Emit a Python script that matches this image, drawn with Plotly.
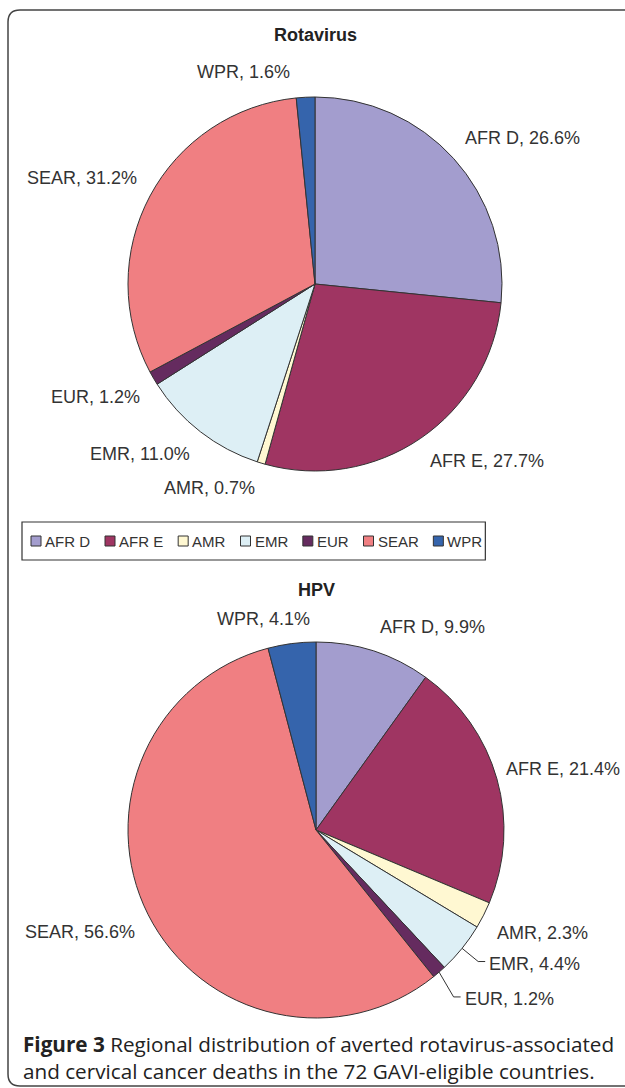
import math
import plotly.graph_objects as go

# ---------------- data ----------------
regions = ["AFR D", "AFR E", "AMR", "EMR", "EUR", "SEAR", "WPR"]
rotavirus_pct = [26.6, 27.7, 0.7, 11.0, 1.2, 31.2, 1.6]
hpv_pct = [9.9, 21.4, 2.3, 4.4, 1.2, 56.6, 4.1]
chart_titles = ["Rotavirus", "HPV"]
caption_bold = "Figure 3"
caption_line1 = " Regional distribution of averted rotavirus-associated"
caption_line2 = "and cervical cancer deaths in the 72 GAVI-eligible countries."

# ---------------- style ----------------
colors = ["#A39DCE", "#9F3562", "#FFF8D2", "#DDEFF5", "#652B5F", "#F07F82", "#3564AC"]
W, H = 625, 1088
TEXT = "#333333"
LABEL_FONT = dict(family="Liberation Sans, Arial, sans-serif", size=18, color=TEXT)

def px(x):
    return x / W

def py(y):
    return 1 - y / H

# pie geometry (pixels); nudges = (dx, dy, leader line?)
pies = [
    dict(values=rotavirus_pct, cx=315, cy=284, r=187, title_y=35,
         nudges={"WPR": (-13, 0, False)}),
    dict(values=hpv_pct, cx=316, cy=830, r=188, title_y=590,
         nudges={"WPR": (22, 0, False), "AFR E": (-5, 6, False),
                 "EMR": (15, -5, True), "EUR": (15, 5, True)}),
]

fig = go.Figure()
annotations = []
shapes = []

for p, title in zip(pies, chart_titles):
    cx, cy, r = p["cx"], p["cy"], p["r"]
    fig.add_trace(go.Pie(
        labels=regions, values=p["values"], sort=False, direction="clockwise",
        rotation=0, textinfo="none", showlegend=False,
        marker=dict(colors=colors, line=dict(color="#333333", width=1)),
        domain=dict(x=[px(cx - r), px(cx + r)], y=[py(cy + r), py(cy - r)]),
        hovertemplate="%{label}: %{value:.1f}%<extra></extra>",
    ))
    annotations.append(dict(
        x=px(cx), y=py(p["title_y"]), xref="paper", yref="paper",
        text=f"<b>{title}</b>", showarrow=False, xanchor="center", yanchor="middle",
        font=dict(family="Liberation Sans, Arial, sans-serif", size=18, color="#222222"),
    ))
    total = sum(p["values"])
    cum = 0.0
    for lab, v in zip(regions, p["values"]):
        mid = (cum + v / 2) / total * 2 * math.pi
        cum += v
        s, c = math.sin(mid), math.cos(mid)
        R = r + 13
        x0 = cx + R * s
        y0 = cy - R * c
        xa = "left" if s > 0.05 else ("right" if s < -0.05 else "center")
        ya = "bottom" if c > 0 else "top"
        text = f"{lab}, {v:.1f}%"
        if lab in p["nudges"]:
            dx, dy, leader = p["nudges"][lab]
            x0 += dx
            y0 += dy
            if leader:
                ex, ey = cx + r * s, cy - r * c
                ly = y0 + 10
                shapes.append(dict(
                    type="path", xref="paper", yref="paper",
                    path=f"M{px(ex)},{py(ey)} L{px(x0 - 9)},{py(ly)} L{px(x0 - 2)},{py(ly)}",
                    line=dict(color="#333333", width=1),
                ))
        annotations.append(dict(
            x=px(x0), y=py(y0), xref="paper", yref="paper", text=text,
            showarrow=False, xanchor=xa, yanchor=ya, font=LABEL_FONT,
        ))

# ---------------- legend (drawn from the category list) ----------------
char_w = {"A": 667, "F": 611, "R": 722, " ": 278, "D": 722, "E": 667,
          "M": 833, "U": 722, "S": 667, "W": 944, "P": 667}
LEG_SIZE = 15
def text_w(t):
    return sum(char_w.get(ch, 600) for ch in t) * LEG_SIZE / 1000

leg_top, leg_bot = 522, 560
leg_mid = (leg_top + leg_bot) / 2
x = 31
for lab, col in zip(regions, colors):
    shapes.append(dict(type="rect", xref="paper", yref="paper",
                       x0=px(x), x1=px(x + 10), y0=py(leg_mid + 5), y1=py(leg_mid - 5),
                       fillcolor=col, line=dict(color="#333333", width=1)))
    annotations.append(dict(x=px(x + 12), y=py(leg_mid), xref="paper", yref="paper",
                            text=lab, showarrow=False, xanchor="left", yanchor="middle",
                            font=dict(family="Liberation Sans, Arial, sans-serif",
                                      size=LEG_SIZE, color=TEXT)))
    last_end = x + 13 + text_w(lab)
    x = last_end + 16
shapes.append(dict(type="rect", xref="paper", yref="paper",
                   x0=px(22), x1=px(last_end + 4), y0=py(leg_bot), y1=py(leg_top),
                   line=dict(color="#333333", width=1.2), fillcolor="rgba(0,0,0,0)"))

# ---------------- outer rounded frame ----------------
bl, bt, bb, rad = 8, 10, 1086, 12
frame = (f"M{px(660)},{py(bt)} L{px(bl + rad)},{py(bt)} "
         f"Q{px(bl)},{py(bt)} {px(bl)},{py(bt + rad)} "
         f"L{px(bl)},{py(bb - rad)} Q{px(bl)},{py(bb)} {px(bl + rad)},{py(bb)} "
         f"L{px(660)},{py(bb)}")
shapes.append(dict(type="path", xref="paper", yref="paper", path=frame,
                   line=dict(color="#444444", width=1.5)))

# ---------------- caption ----------------
cap_font = dict(family="Open Sans, Noto Sans, sans-serif", size=20.7, color="#222222")
annotations.append(dict(x=px(21), y=py(1044), xref="paper", yref="paper",
                        text=f"<b>{caption_bold}</b>{caption_line1}", showarrow=False,
                        xanchor="left", yanchor="middle", font=cap_font))
annotations.append(dict(x=px(21), y=py(1071), xref="paper", yref="paper",
                        text=caption_line2, showarrow=False,
                        xanchor="left", yanchor="middle", font=cap_font))

fig.update_layout(
    width=W, height=H, margin=dict(l=0, r=0, t=0, b=0),
    paper_bgcolor="white", plot_bgcolor="white",
    annotations=annotations, shapes=shapes, showlegend=False,
)
fig.write_html(
    "out.html",
    config={"displayModeBar": False},
    post_script="document.body.style.margin='0';document.body.style.overflow='hidden';",
)
